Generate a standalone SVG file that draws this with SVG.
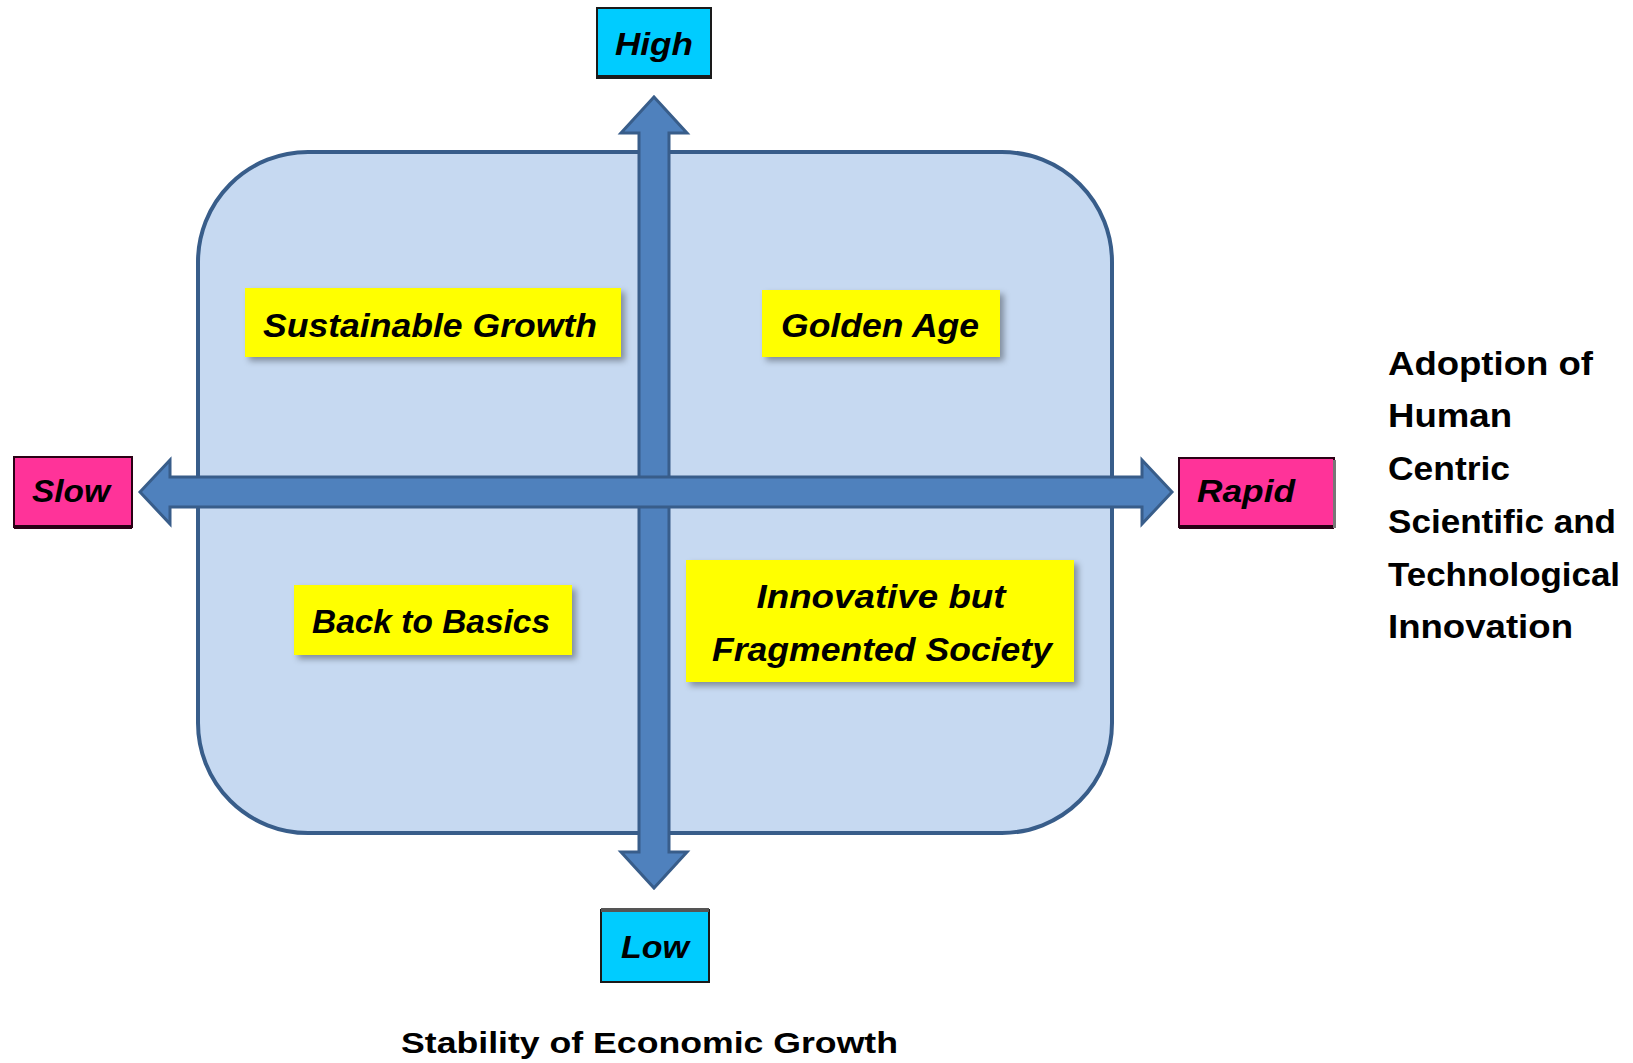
<svg xmlns="http://www.w3.org/2000/svg" width="1633" height="1063" viewBox="0 0 1633 1063">
<defs>
<filter id="sh" x="-10%" y="-20%" width="130%" height="150%">
<feDropShadow dx="4" dy="4" stdDeviation="3" flood-color="#000" flood-opacity="0.35"/>
</filter>
</defs>
<style>
.lbl{font-family:"Liberation Sans",Arial,sans-serif;font-weight:bold;font-style:italic;fill:#000;}
.axis{font-family:"Liberation Sans",Arial,sans-serif;font-weight:bold;fill:#000;}
.yel{fill:#FFFF00;filter:url(#sh);}
.cyan{fill:#00CCFF;stroke:#1a1a1a;stroke-width:2;}
.pink{fill:#FF3399;stroke:#2a0015;stroke-width:2;}
.arrow{fill:#4F81BD;stroke:#385D8A;stroke-width:3;stroke-linejoin:miter;}
</style>
<rect width="1633" height="1063" fill="#fff"/>
<g id="frame">
<rect x="198" y="152" width="914" height="681" rx="110" ry="110" fill="#C6D9F1" stroke="#385D8A" stroke-width="4"/>
</g>
<g id="connectors">
<polygon class="arrow" points="654,97 687,133 669,133 669,852 687,852 654,888 621,852 639,852 639,133 621,133"/>
<polygon class="arrow" points="140,492 170,460 170,477 1142,477 1142,460 1172,492 1142,524 1142,507 170,507 170,524"/>
</g>
<g id="high">
<rect class="cyan" x="597" y="8" width="114" height="70"/>
<rect x="597" y="75" width="114" height="4" fill="#1a1a1a"/>
<text class="lbl" x="654" y="55" font-size="32" text-anchor="middle" textLength="78" lengthAdjust="spacingAndGlyphs">High</text>
</g>
<g id="low">
<rect class="cyan" x="601" y="910" width="108" height="72"/>
<rect x="601" y="908" width="108" height="4" fill="#555"/>
<text class="lbl" x="655" y="958" font-size="32" text-anchor="middle" textLength="68" lengthAdjust="spacingAndGlyphs">Low</text>
</g>
<g id="slow">
<rect class="pink" x="14" y="457" width="118" height="70"/>
<rect x="14" y="525" width="118" height="4" fill="#2a0015"/>
<text class="lbl" x="71" y="502" font-size="32" text-anchor="middle" textLength="78" lengthAdjust="spacingAndGlyphs">Slow</text>
</g>
<g id="rapid">
<rect class="pink" x="1179" y="458" width="155" height="69"/>
<rect x="1179" y="525" width="155" height="4" fill="#2a0015"/>
<rect x="1333" y="460" width="3" height="68" fill="#777"/>
<text class="lbl" x="1246" y="502" font-size="32" text-anchor="middle" textLength="98" lengthAdjust="spacingAndGlyphs">Rapid</text>
</g>
<g id="sustainable-growth">
<rect class="yel" x="245" y="288" width="376" height="69"/>
<text class="lbl" x="430" y="337" font-size="34" text-anchor="middle" textLength="334" lengthAdjust="spacingAndGlyphs">Sustainable Growth</text>
</g>
<g id="golden-age">
<rect class="yel" x="762" y="290" width="238" height="67"/>
<text class="lbl" x="880" y="337" font-size="34" text-anchor="middle" textLength="198" lengthAdjust="spacingAndGlyphs">Golden Age</text>
</g>
<g id="back-to-basics">
<rect class="yel" x="294" y="585" width="278" height="70"/>
<text class="lbl" x="431" y="633" font-size="34" text-anchor="middle" textLength="238" lengthAdjust="spacingAndGlyphs">Back to Basics</text>
</g>
<g id="innovative">
<rect class="yel" x="686" y="560" width="388" height="122"/>
<text class="lbl" x="881" y="608" font-size="34" text-anchor="middle" textLength="249" lengthAdjust="spacingAndGlyphs">Innovative but</text>
<text class="lbl" x="882" y="661" font-size="34" text-anchor="middle" textLength="340" lengthAdjust="spacingAndGlyphs">Fragmented Society</text>
</g>
<g id="adoption-label">
<text class="axis" font-size="34">
<tspan x="1388" y="375" textLength="205" lengthAdjust="spacingAndGlyphs">Adoption of</tspan>
<tspan x="1388" y="427" textLength="124" lengthAdjust="spacingAndGlyphs">Human</tspan>
<tspan x="1388" y="480" textLength="122" lengthAdjust="spacingAndGlyphs">Centric</tspan>
<tspan x="1388" y="533" textLength="228" lengthAdjust="spacingAndGlyphs">Scientific and</tspan>
<tspan x="1388" y="586" textLength="232" lengthAdjust="spacingAndGlyphs">Technological</tspan>
<tspan x="1388" y="638" textLength="185" lengthAdjust="spacingAndGlyphs">Innovation</tspan>
</text>
</g>
<g id="stability-label">
<text class="axis" x="401" y="1053" font-size="30" textLength="497" lengthAdjust="spacingAndGlyphs">Stability of Economic Growth</text>
</g>
</svg>
